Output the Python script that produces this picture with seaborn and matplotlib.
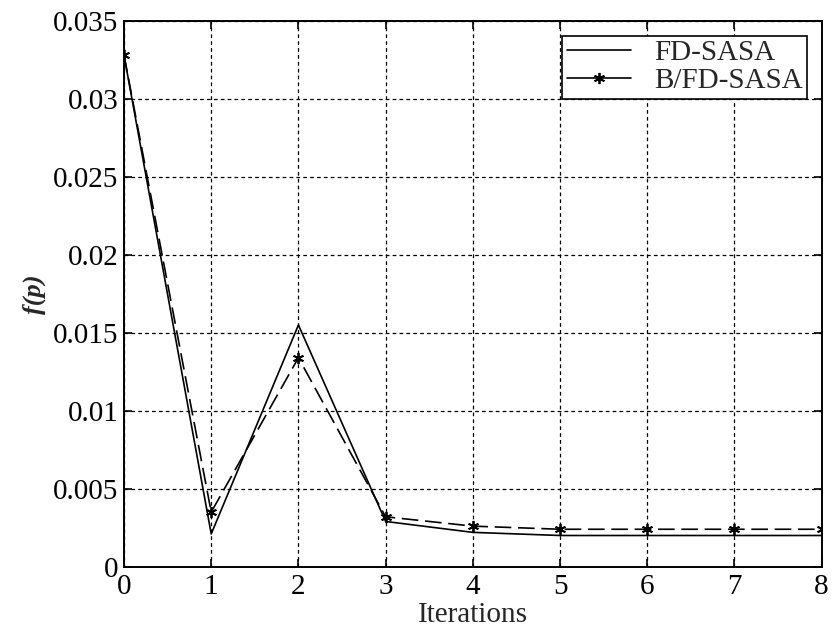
import matplotlib
matplotlib.use("Agg")
import matplotlib.pyplot as plt
import seaborn as sns
import pandas as pd

iterations = [0, 1, 2, 3, 4, 5, 6, 7, 8]
fd_sasa = [0.0328, 0.0021, 0.0155, 0.0029, 0.0022, 0.0020, 0.0020, 0.0020, 0.0020]
bfd_sasa = [0.0328, 0.0035, 0.0134, 0.0032, 0.0026, 0.0024, 0.0024, 0.0024, 0.0024]
series_names = ["FD-SASA", "B/FD-SASA"]

df1 = pd.DataFrame({"Iterations": iterations, "f": fd_sasa})
df2 = pd.DataFrame({"Iterations": iterations, "f": bfd_sasa})

sns.set_theme(style="white")
plt.rcParams['font.family'] = ['Liberation Serif', 'DejaVu Serif']

fig = plt.figure(figsize=(8.34, 6.35), dpi=100)
ax = fig.add_axes([0.1487, 0.1076, 0.8365, 0.8594])

sns.lineplot(data=df1, x="Iterations", y="f", color="black", linewidth=1.2,
             label=series_names[0], ax=ax)
sns.lineplot(data=df2, x="Iterations", y="f", color="black", linewidth=1.2,
             linestyle=(0, (10, 4)), marker=(6, 2, 0), markersize=8,
             markeredgewidth=1.3, markeredgecolor="black",
             label=series_names[1], ax=ax)

ax.set_xlim(0, 8)
ax.set_ylim(0, 0.035)
ax.set_xticks(range(0, 9))
ax.set_yticks([0, 0.005, 0.01, 0.015, 0.02, 0.025, 0.03, 0.035])
ax.set_yticklabels(["0", "0.005", "0.01", "0.015", "0.02", "0.025", "0.03", "0.035"])
ax.grid(True, color="black", linestyle=(0, (3, 2.5)), linewidth=0.9)
ax.tick_params(direction="in", length=6, width=1.2, labelsize=21, colors="black",
               top=True, right=True, bottom=True, left=True)
ax.tick_params(axis="y", pad=4)
ax.tick_params(axis="x", pad=5)
for s in ax.spines.values():
    s.set_color("black")
    s.set_linewidth(1.4)
ax.set_xlabel("Iterations", fontsize=21, labelpad=2)
ax.set_ylabel("f(p)", fontsize=19, style="italic", fontweight="bold", labelpad=5)

leg = ax.legend(loc="upper right", fontsize=21, frameon=True, fancybox=False,
                edgecolor="black", framealpha=1, borderaxespad=0.5,
                handlelength=2.2, handletextpad=0.8, borderpad=0.15, labelspacing=0.05)
leg.get_frame().set_linewidth(1.2)
for h in leg.legend_handles:
    h.set_linestyle("-")

fig.savefig("out.png", dpi=100)
